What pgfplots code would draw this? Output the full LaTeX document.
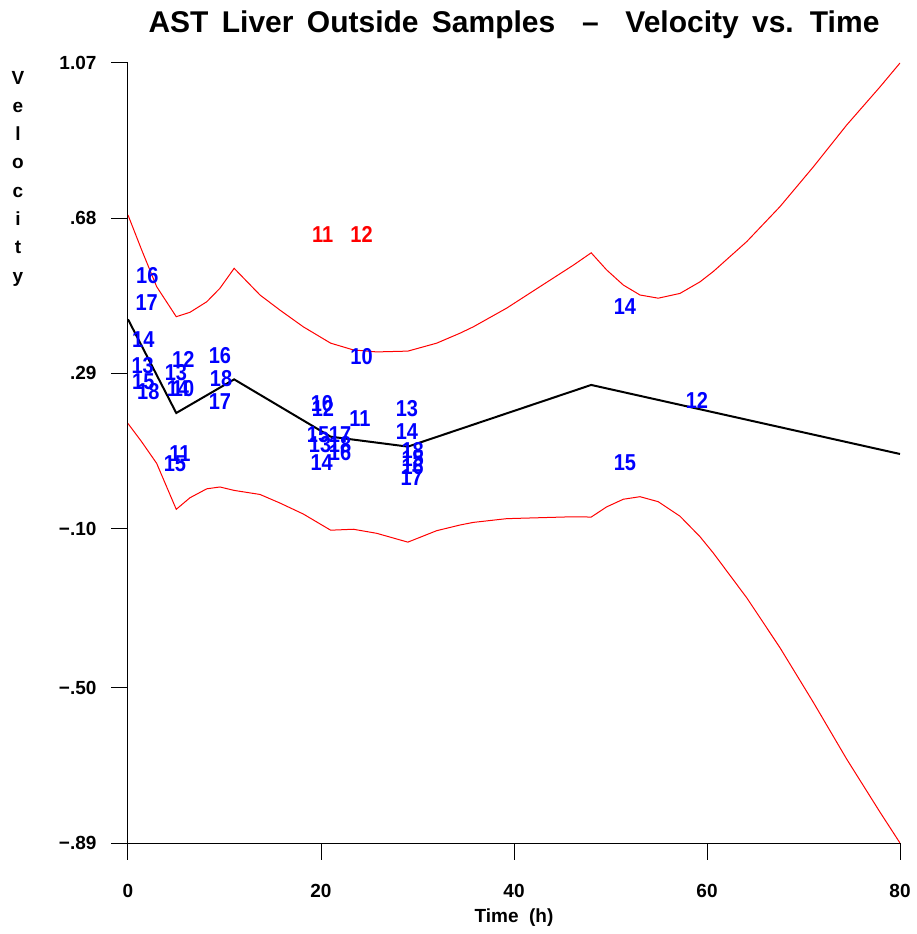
\documentclass[border=0pt]{standalone}
\usepackage{fontspec}
\setmainfont{Liberation Sans}
\newfontfamily\titlefont[WordSpace=1.6]{Liberation Sans}
\usepackage{pgfplots}
\usepackage{pgfplotstable}
\pgfplotsset{compat=1.18}

\pgfplotstableread{
x y
0 0.426
5 0.1905
11 0.275
21 0.131
29 0.106
48 0.261
80 0.0875
}\meantab

\pgfplotstableread{
x y
0 0.688
1.42 0.600
2.97 0.508
5 0.4325
6.42 0.4435
8.16 0.470
9.53 0.504
11 0.554
13.68 0.487
15.75 0.449
18.17 0.407
21 0.366
23.35 0.349
25.77 0.344
29 0.346
31.99 0.366
34.4 0.391
35.78 0.407
39.24 0.454
42.69 0.508
46.15 0.562
48 0.593
49.6 0.550
51.33 0.512
53.06 0.487
54.95 0.479
57.2 0.491
59.27 0.520
60.65 0.546
64.11 0.621
67.56 0.709
71.02 0.809
74.47 0.914
77.93 1.010
80 1.07
}\uppertab

\pgfplotstableread{
x y
0 0.164
1.42 0.118
2.97 0.064
5 -0.0515
6.42 -0.0225
8.16 0.000
9.53 0.0046
11 -0.004
13.68 -0.0142
15.75 -0.0358
18.17 -0.0634
21 -0.104
23.35 -0.1016
25.77 -0.1118
29 -0.134
31.99 -0.1052
34.4 -0.091
35.78 -0.0844
39.24 -0.075
42.69 -0.0726
46.15 -0.0702
48 -0.071
49.6 -0.0454
51.33 -0.0262
53.06 -0.0198
54.95 -0.0324
57.2 -0.0688
59.27 -0.1202
60.65 -0.1612
64.11 -0.2736
67.56 -0.3992
71.02 -0.5366
74.47 -0.679
77.93 -0.8126
80 -0.89
}\lowertab

\pgfplotstableread{
x y lab
2.0 0.537 16
1.94 0.469 17
1.59 0.376 14
1.52 0.309 13
1.59 0.269 15
2.10 0.244 18
5.73 0.324 12
4.97 0.291 13
5.18 0.253 14
5.70 0.253 10
5.39 0.0875 11
4.87 0.062 15
9.53 0.336 16
9.64 0.276 18
9.53 0.218 17
20.1 0.213 10
20.2 0.203 12
19.7 0.135 15
19.9 0.110 13
20.07 0.065 14
21.97 0.135 17
21.97 0.110 18
21.97 0.090 16
24.2 0.332 10
24.04 0.177 11
28.9 0.202 13
28.9 0.145 14
29.5 0.095 18
29.5 0.075 15
29.5 0.057 16
29.4 0.027 17
51.5 0.458 14
51.5 0.066 15
58.96 0.221 12
}\bluelab

\pgfplotstableread{
x y lab
20.18 0.638 11
24.2 0.638 12
}\redlab

\begin{document}
\begin{tikzpicture}
\path[use as bounding box] (-128pt,-91pt) rectangle (788pt,843pt);
\begin{axis}[
  at={(0pt,0pt)}, anchor=south west,
  scale only axis, width=772pt, height=780pt,
  xmin=0, xmax=80, ymin=-0.89, ymax=1.07,
  axis x line*=bottom, axis y line*=left,
  axis line style={line width=1pt},
  tick style={line width=1pt, black},
  tick align=outside, major tick length=17pt,
  xtick={0,20,40,60,80}, xticklabels={0,20,40,60,80},
  ytick={-0.89,-0.5,-0.1,0.29,0.68,1.07},
  yticklabels={−.89,−.50,−.10,.29,.68,1.07},
  ticklabel style={font=\fontsize{19}{19}\selectfont\bfseries},
  xticklabel style={anchor=north, yshift=-21pt},
  yticklabel style={anchor=east, xshift=-11pt},
  xlabel={Time\ \ (h)},
  xlabel style={font=\fontsize{19}{19}\selectfont\bfseries, at={(axis description cs:0.5,0)}, anchor=base, yshift=-79pt},
  ylabel={\begin{tabular}{@{}c@{}}V\\e\\l\\o\\c\\i\\t\\y\end{tabular}},
  ylabel style={rotate=-90, at={(axis description cs:-0.1425,1)}, anchor=north, inner sep=0pt, yshift=-1pt, font=\fontsize{19}{28.3}\selectfont\bfseries},
  title={AST Liver Outside Samples \ – \ Velocity vs. Time},
  title style={font=\fontsize{30}{30}\selectfont\titlefont\bfseries, at={(axis description cs:0.5,1)}, anchor=base, yshift=24pt},
  nodes near coords align=center,
]
\addplot[red, line width=1pt] table {\uppertab};
\addplot[red, line width=1pt] table {\lowertab};
\addplot[black, line width=2pt] table {\meantab};
\addplot[draw=none, mark=none, nodes near coords, point meta=explicit symbolic,
  every node near coord/.append style={anchor=center, text=blue, inner sep=0pt, yscale=1.15, font=\fontsize{20}{20}\selectfont\bfseries}]
  table[meta=lab] {\bluelab};
\addplot[draw=none, mark=none, nodes near coords, point meta=explicit symbolic,
  every node near coord/.append style={anchor=center, text=red, inner sep=0pt, yscale=1.15, font=\fontsize{20}{20}\selectfont\bfseries}]
  table[meta=lab] {\redlab};
\end{axis}
\end{tikzpicture}
\end{document}
